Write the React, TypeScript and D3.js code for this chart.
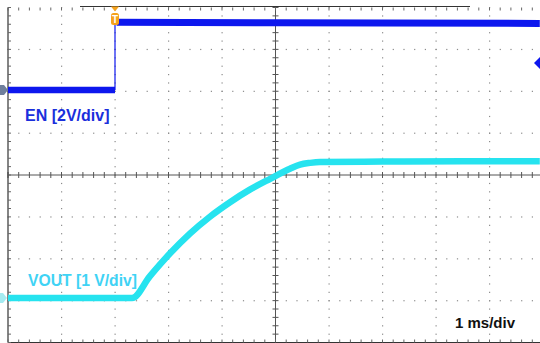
import React from "react";
import * as d3 from "d3";

// time axis, ms (1 ms/div, 10 divisions)
const timeDivs = [-5, -4, -3, -2, -1, 0, 1, 2, 3, 4, 5];
// vertical divisions
const ampDivs = [-4, -3, -2, -1, 0, 1, 2, 3, 4];

// VOUT trace, volts (1 V/div)
const voutTime = [-5, -2.68, -2.35, -1.97, -1.6, -1.22, -0.85, -0.48, -0.1, 0.27, 0.46, 0.65, 0.83, 2, 3.5, 4.94];
const voutVolts = [0, 0, 0.52, 1.07, 1.54, 1.95, 2.29, 2.59, 2.85, 3.09, 3.19, 3.23, 3.25, 3.26, 3.27, 3.27];

// EN trace, volts (2 V/div)
const enLowTime = [-5, -3.0];
const enLowVolts = [0, 0];
const enHighTime = [-2.97, 0, 2, 4.94];
const enHighVolts = [3.24, 3.21, 3.2, 3.18];
const enEdgeTime = -3.0;

// channel settings
const enScale = 2;      // V/div
const enOffset = 2.03;  // div
const voutScale = 1;    // V/div
const voutOffset = -2.94; // div
const triggerLevel = 1.29; // V on EN

const W = 540;
const H = 343;

const EN_COLOR = "#0d17ee";
const EN_LABEL = "#1a2fdc";
const VOUT_COLOR = "#26e3ef";

export default function App() {
  const x = d3.scaleLinear().domain([-5, 5]).range([8, 543]);
  const y = d3.scaleLinear().domain([-4, 4]).range([342.5, 7.5]);

  const enY = (v: number) => y(v / enScale + enOffset);
  const voutY = (v: number) => y(v / voutScale + voutOffset);

  const minorX = d3.range(-5, 5.001, 0.2);
  const minorY = d3.range(-4, 4.001, 0.2);

  const voutLine = d3
    .line<number>()
    .x((d, i) => x(voutTime[i]))
    .y((d) => voutY(d))
    .curve(d3.curveMonotoneX);

  const enLine = (ts: number[]) =>
    d3
      .line<number>()
      .x((d, i) => x(ts[i]))
      .y((d) => enY(d));

  const gridDots: React.ReactNode[] = [];
  // dots along the vertical grid lines
  timeDivs.slice(1, -1).forEach((t) => {
    if (t === 0) return;
    minorY.forEach((a, j) => {
      gridDots.push(<rect key={`vx${t}_${j}`} x={x(t) - 0.5} y={y(a) - 0.5} width={1.2} height={1.2} fill="#8c8c8c" />);
    });
  });
  // dots along the horizontal grid lines
  ampDivs.slice(1, -1).forEach((a) => {
    if (a === 0) return;
    minorX.forEach((t, j) => {
      gridDots.push(<rect key={`hy${a}_${j}`} x={x(t) - 0.5} y={y(a) - 0.5} width={1.2} height={1.2} fill="#8c8c8c" />);
    });
  });

  const trigX = x(enEdgeTime);
  const trigY = enY(triggerLevel);

  return (
    <svg
      width={W}
      height={H}
      style={{ position: "absolute", left: 0, top: 0, background: "#fff", display: "block" }}
      fontFamily="'Liberation Sans', Arial, sans-serif"
    >
      <rect width={W} height={H} fill="#fff" />
      {gridDots}

      {/* center cross with minor ticks */}
      <g stroke="#555" strokeWidth={1}>
        <line x1={x(-5)} x2={x(5)} y1={y(0)} y2={y(0)} />
        <line x1={x(0)} x2={x(0)} y1={y(-4)} y2={y(4)} />
        {minorX.map((t, i) => (
          <line key={`cx${i}`} x1={x(t)} x2={x(t)} y1={y(0) - 3} y2={y(0) + 3} />
        ))}
        {minorY.map((a, i) => (
          <line key={`cy${i}`} x1={x(0) - 3} x2={x(0) + 3} y1={y(a)} y2={y(a)} />
        ))}
      </g>

      {/* border with inward ticks */}
      <g stroke="#333" strokeWidth={1.2}>
        <line x1={x(-5)} x2={x(-5)} y1={y(4)} y2={y(-4)} />
        <line x1={x(-5)} x2={x(5)} y1={y(-4)} y2={y(-4)} />
        <line x1={80} x2={470} y1={y(4) - 1} y2={y(4) - 1} />
      </g>
      <g stroke="#666" strokeWidth={1}>
        {minorX.map((t, i) => (
          <g key={`bx${i}`}>
            <line x1={x(t)} x2={x(t)} y1={y(-4)} y2={y(-4) - 3} />
            <line x1={x(t)} x2={x(t)} y1={y(4)} y2={y(4) + 3} />
          </g>
        ))}
        {minorY.map((a, i) => (
          <line key={`by${i}`} x1={x(-5)} x2={x(-5) + 3} y1={y(a)} y2={y(a)} />
        ))}
      </g>

      {/* VOUT trace */}
      <path d={voutLine(voutVolts) || ""} fill="none" stroke={VOUT_COLOR} strokeWidth={6.5} strokeLinejoin="round" />

      {/* EN trace */}
      <path d={enLine(enLowTime)(enLowVolts) || ""} fill="none" stroke={EN_COLOR} strokeWidth={6.5} />
      <line x1={trigX} x2={trigX} y1={enY(enLowVolts[1])} y2={enY(enHighVolts[0])} stroke={EN_COLOR} strokeWidth={1.2} />
      <path d={enLine(enHighTime)(enHighVolts) || ""} fill="none" stroke={EN_COLOR} strokeWidth={7} />

      {/* ground reference markers */}
      <path d={`M0,${enY(0) - 5} L4,${enY(0) - 5} L8,${enY(0)} L4,${enY(0) + 5} L0,${enY(0) + 5} Z`} fill="#6f7f9c" />
      <path d={`M0,${voutY(0) - 5} L3,${voutY(0) - 5} L7,${voutY(0)} L3,${voutY(0) + 5} L0,${voutY(0) + 5} Z`} fill="#8fe6ee" opacity={0.8} />

      {/* trigger level marker */}
      <path d={`M${W - 6},${trigY} L${W},${trigY - 6} L${W},${trigY + 6} Z`} fill={EN_COLOR} />

      {/* trigger position marker */}
      <path d={`M${trigX - 4},${y(4) - 1} L${trigX + 4},${y(4) - 1} L${trigX},${y(4) + 4} Z`} fill="#f5a21b" />
      <rect x={trigX - 4} y={13} width={8} height={12} rx={2.5} fill="#f5a21b" />
      <text x={trigX} y={23} fontSize={10} fontWeight="bold" fill="#fff" textAnchor="middle">T</text>

      {/* labels */}
      <text x={25} y={121} fontSize={16} fontWeight="bold" fill={EN_LABEL}>EN [2V/div]</text>
      <text x={28} y={286} fontSize={16} fontWeight="bold" fill="#3fd3f5" textLength={109} lengthAdjust="spacingAndGlyphs">VOUT [1 V/div]</text>
      <text x={455} y={328} fontSize={15} fontWeight="bold" fill="#111">1 ms/div</text>
    </svg>
  );
}
